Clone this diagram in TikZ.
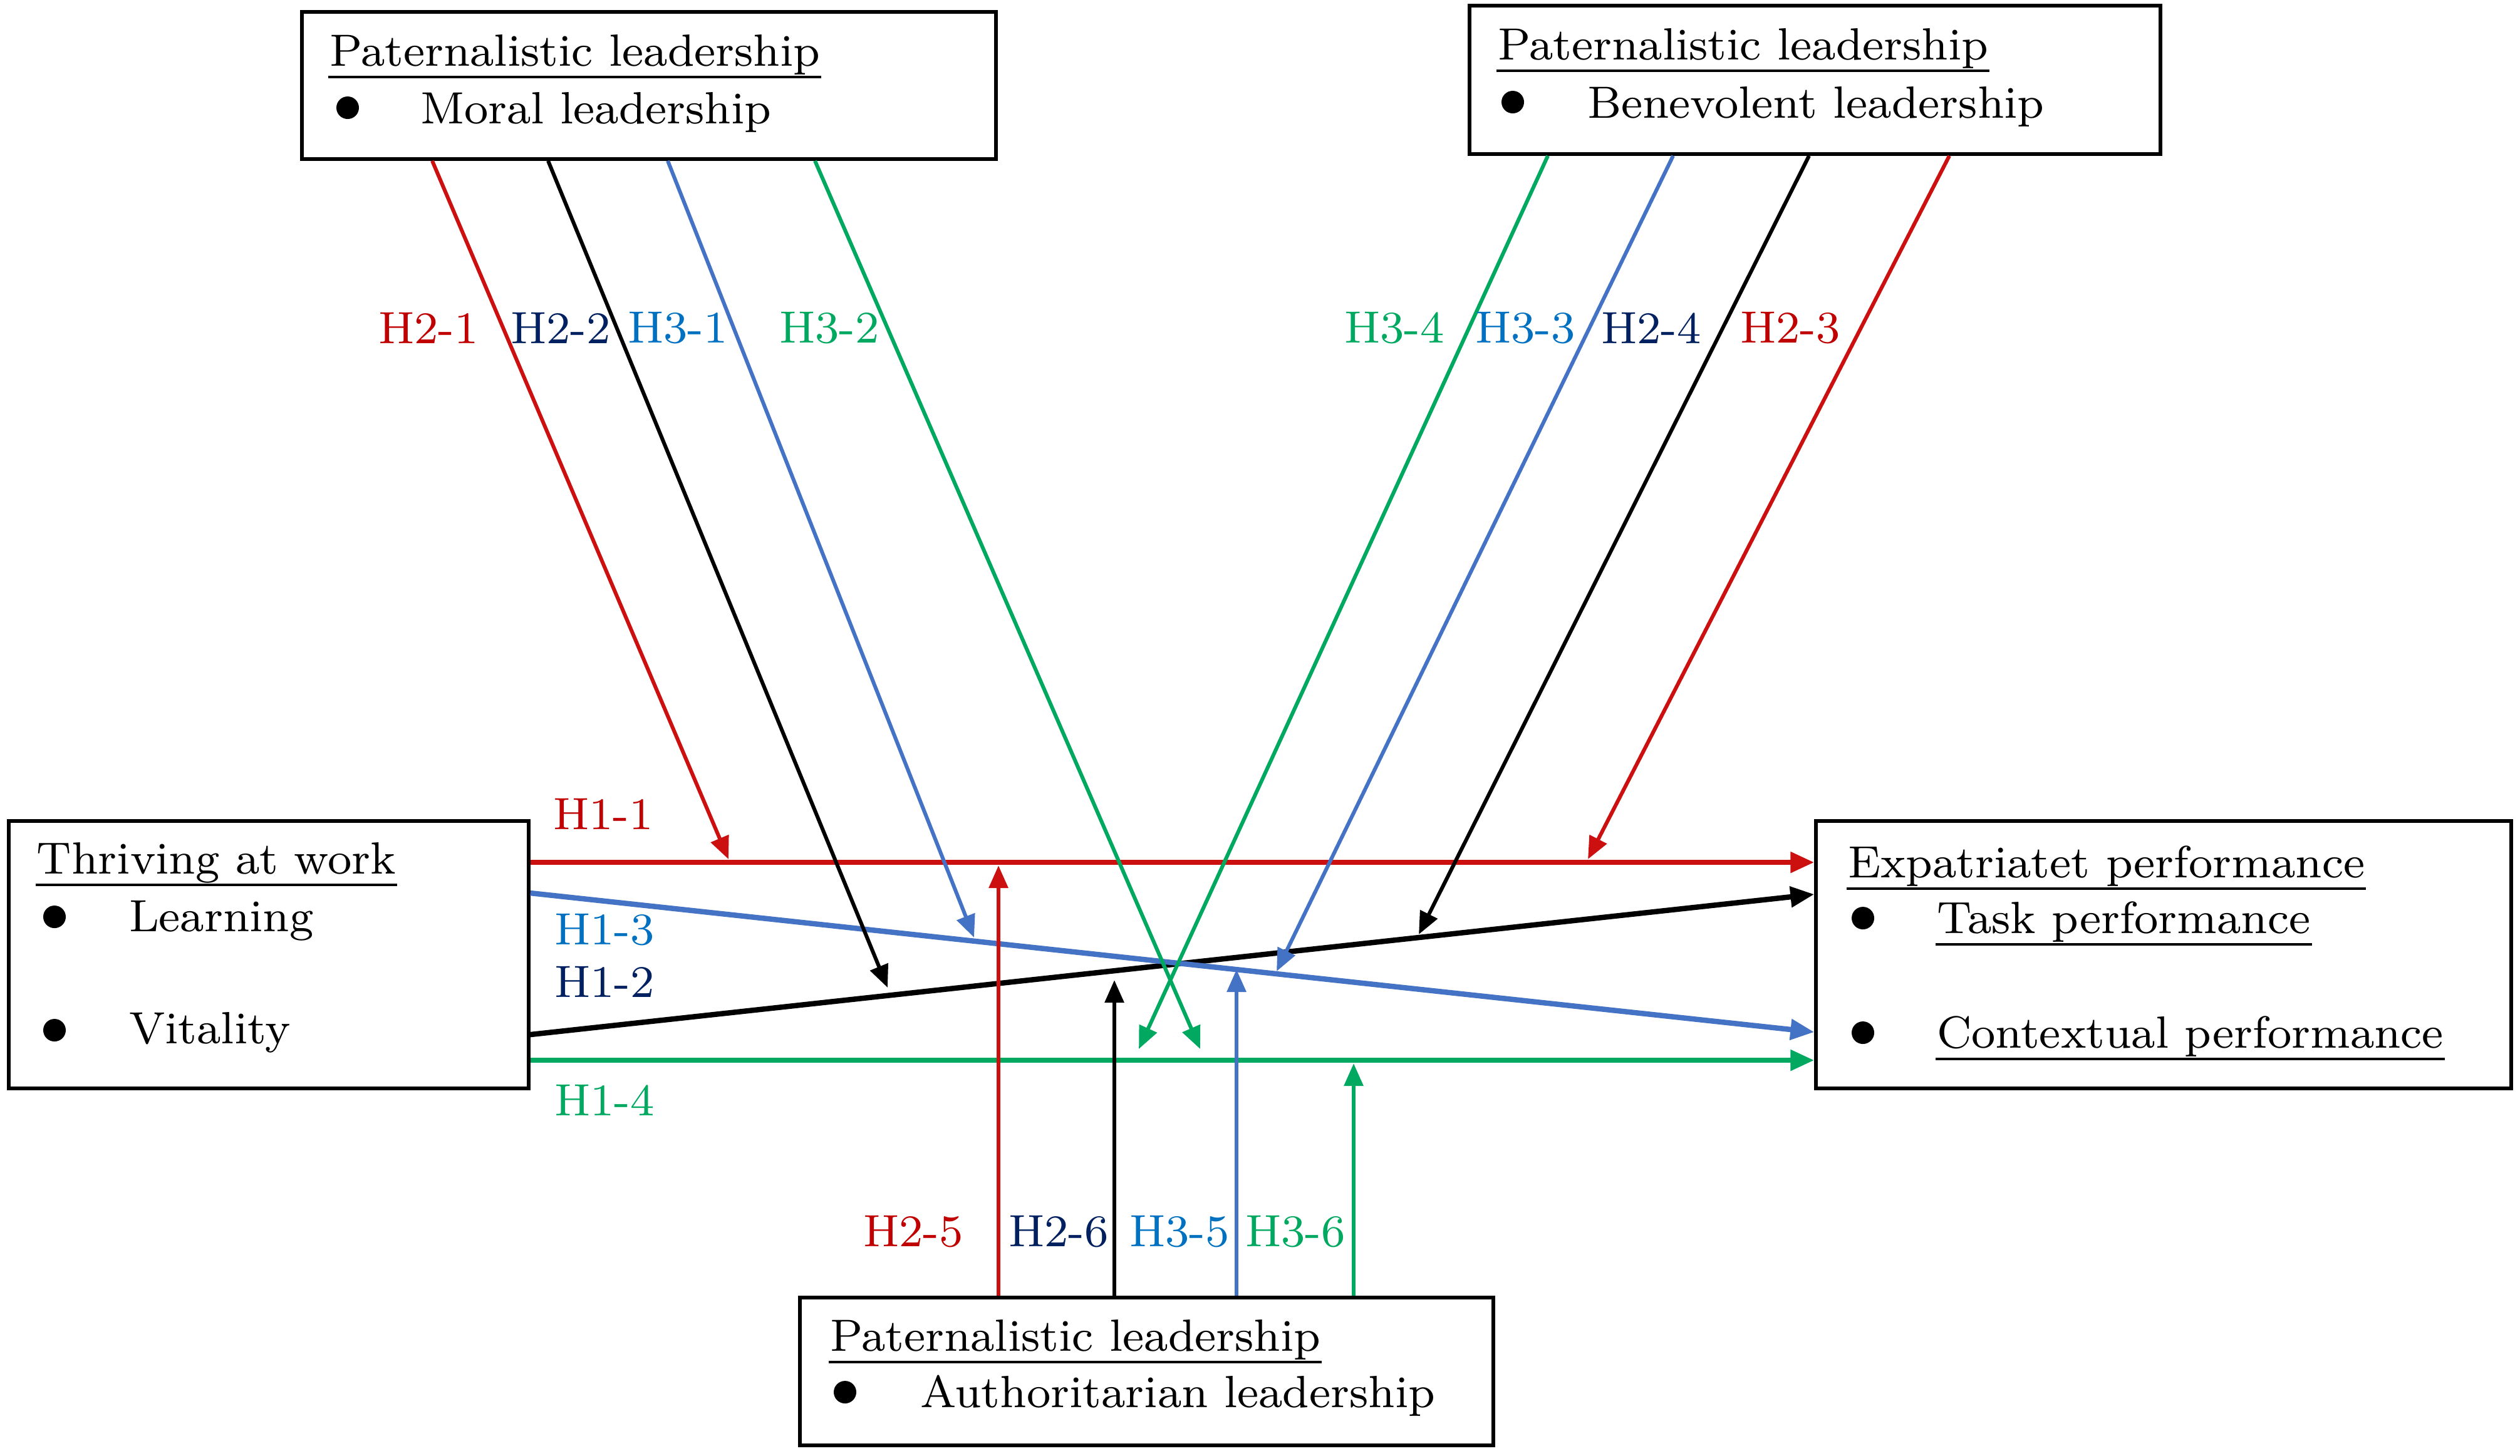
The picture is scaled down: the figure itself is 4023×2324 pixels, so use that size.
\documentclass[tikz,border=0pt]{standalone}
\usetikzlibrary{arrows.meta}
\definecolor{cred}{RGB}{204,16,16}
\definecolor{cblue}{RGB}{68,114,196}
\definecolor{cgreen}{RGB}{0,168,96}
\definecolor{lred}{RGB}{192,0,0}
\definecolor{lnavy}{RGB}{0,32,96}
\definecolor{lblue}{RGB}{0,112,192}
\definecolor{lgreen}{RGB}{0,168,96}
\newcommand\ulnode[1]{\draw[ul] ([yshift=-1.8pt]#1.base west) -- ([yshift=-1.8pt]#1.base east);}
\newcommand\sx[1]{\scalebox{0.962}{#1}}
\begin{document}
\begin{tikzpicture}[x=0.1pt,y=-0.1pt,
  box/.style={draw,line width=0.55pt,inner sep=0pt},
  txt/.style={font=\fontsize{7.5}{9}\selectfont,inner sep=0pt,anchor=base west},
  lab/.style={font=\fontsize{7.5}{9}\selectfont,inner sep=0pt},
  dot/.style={circle,fill,inner sep=0pt,minimum size=3.6pt},
  arr/.style={line width=0.6pt,-{Triangle[length=3.6pt,width=3pt]}},
  mainarr/.style={line width=0.85pt,-{Triangle[length=3.8pt,width=3.2pt]}},
  ul/.style={line width=0.45pt}]
\useasboundingbox (0,0) rectangle (4023,2324);

% boxes
\node[box,minimum width=110.8pt,minimum height=23.5pt] (moral) at (1036,136.5) {};
\node[box,minimum width=110.3pt,minimum height=23.7pt] (benev) at (2897.5,127.5) {};
\node[box,minimum width=83pt,minimum height=42.7pt] (thriv) at (429,1524.5) {};
\node[box,minimum width=111pt,minimum height=42.7pt] (expat) at (3454,1524.5) {};
\node[box,minimum width=110.7pt,minimum height=23.6pt] (auth) at (1830.5,2190) {};

% box texts
\node[txt] (mt) at (524,105) {\sx{Paternalistic leadership}}; \ulnode{mt}
\node[dot] (md) at (555,172) {};
\node[txt] (mi) at (669,197) {\sx{Moral leadership}};

\node[txt] (bt) at (2389,95) {\sx{Paternalistic leadership}}; \ulnode{bt}
\node[dot] (bd) at (2415,163) {};
\node[txt] (bi) at (2532,188) {\sx{Benevolent leadership}};

\node[txt] (tt) at (57,1395) {\sx{Thriving at work}}; \ulnode{tt}
\node[dot] (td1) at (87,1464) {};
\node[txt] (ti1) at (204,1487) {\sx{Learning}};
\node[dot] (td2) at (87,1645) {};
\node[txt] (ti2) at (204,1666) {\sx{Vitality}};

\node[txt] (et) at (2948,1401) {\sx{Expatriatet performance}}; \ulnode{et}
\node[dot] (ed1) at (2974,1466) {};
\node[txt] (ei1) at (3090,1490) {\sx{Task performance}}; \ulnode{ei1}
\node[dot] (ed2) at (2974,1649) {};
\node[txt] (ei2) at (3090,1673) {\sx{Contextual performance}}; \ulnode{ei2}

\node[txt] (at) at (1323,2157) {\sx{Paternalistic leadership}}; \ulnode{at}
\node[dot] (ad) at (1349,2223) {};
\node[txt] (ai) at (1467,2247) {\sx{Authoritarian leadership}};

% helper coordinates
\coordinate (y11) at (0,1377);
\coordinate (y12s) at (0,1652);
\coordinate (y12e) at (0,1428);
\coordinate (y13s) at (0,1426);
\coordinate (y13e) at (0,1648);
\coordinate (y14) at (0,1693);

% H1 main arrows
\draw[mainarr,cred] (thriv.east |- y11) -- (expat.west |- y11);
\draw[mainarr,black] (thriv.east |- y12s) -- (expat.west |- y12e);
\draw[mainarr,cblue] (thriv.east |- y13s) -- (expat.west |- y13e);
\draw[mainarr,cgreen] (thriv.east |- y14) -- (expat.west |- y14);

% start x positions
\coordinate (s21) at (690,0);
\coordinate (s22) at (875,0);
\coordinate (s31) at (1066,0);
\coordinate (s32) at (1301,0);
\coordinate (s34) at (2471,0);
\coordinate (s33) at (2671,0);
\coordinate (s24) at (2888,0);
\coordinate (s23) at (3112,0);
\coordinate (s25) at (1594,0);
\coordinate (s26) at (1779,0);
\coordinate (s35) at (1974,0);
\coordinate (s36) at (2161,0);

% end points
\coordinate (e21) at (1163,1372);
\coordinate (e22) at (1417,1577);
\coordinate (e31) at (1555,1497);
\coordinate (e32) at (1916,1675);
\coordinate (e34) at (1818,1675);
\coordinate (e33) at (2038,1551);
\coordinate (e24) at (2265,1492);
\coordinate (e23) at (2535,1372);
\coordinate (e25) at (1594,1382);
\coordinate (e26) at (1779,1565);
\coordinate (e35) at (1974,1548);
\coordinate (e36) at (2161,1698);

% moderating arrows
\draw[arr,cred] (moral.south -| s21) -- (e21);
\draw[arr,black] (moral.south -| s22) -- (e22);
\draw[arr,cblue] (moral.south -| s31) -- (e31);
\draw[arr,cgreen] (moral.south -| s32) -- (e32);
\draw[arr,cgreen] (benev.south -| s34) -- (e34);
\draw[arr,cblue] (benev.south -| s33) -- (e33);
\draw[arr,black] (benev.south -| s24) -- (e24);
\draw[arr,cred] (benev.south -| s23) -- (e23);
\draw[arr,cred] (auth.north -| s25) -- (e25);
\draw[arr,black] (auth.north -| s26) -- (e26);
\draw[arr,cblue] (auth.north -| s35) -- (e35);
\draw[arr,cgreen] (auth.north -| s36) -- (e36);

% labels
\node[lab,text=lred] (l21) at (684,524) {\sx{H2-1}};
\node[lab,text=lnavy] (l22) at (895,524) {\sx{H2-2}};
\node[lab,text=lblue] (l31) at (1082,524) {\sx{H3-1}};
\node[lab,text=lgreen] (l32) at (1324,524) {\sx{H3-2}};
\node[lab,text=lgreen] (l34) at (2226,524) {\sx{H3-4}};
\node[lab,text=lblue] (l33) at (2435,524) {\sx{H3-3}};
\node[lab,text=lnavy] (l24) at (2636,524) {\sx{H2-4}};
\node[lab,text=lred] (l23) at (2858,524) {\sx{H2-3}};
\node[lab,text=lred] (l11) at (963,1300) {\sx{H1-1}};
\node[lab,text=lblue] (l13) at (965,1485) {\sx{H1-3}};
\node[lab,text=lnavy] (l12) at (965,1568) {\sx{H1-2}};
\node[lab,text=lgreen] (l14) at (965,1757) {\sx{H1-4}};
\node[lab,text=lred] (l25) at (1458,1967) {\sx{H2-5}};
\node[lab,text=lnavy] (l26) at (1690,1967) {\sx{H2-6}};
\node[lab,text=lblue] (l35) at (1883,1967) {\sx{H3-5}};
\node[lab,text=lgreen] (l36) at (2068,1967) {\sx{H3-6}};
\end{tikzpicture}
\end{document}
